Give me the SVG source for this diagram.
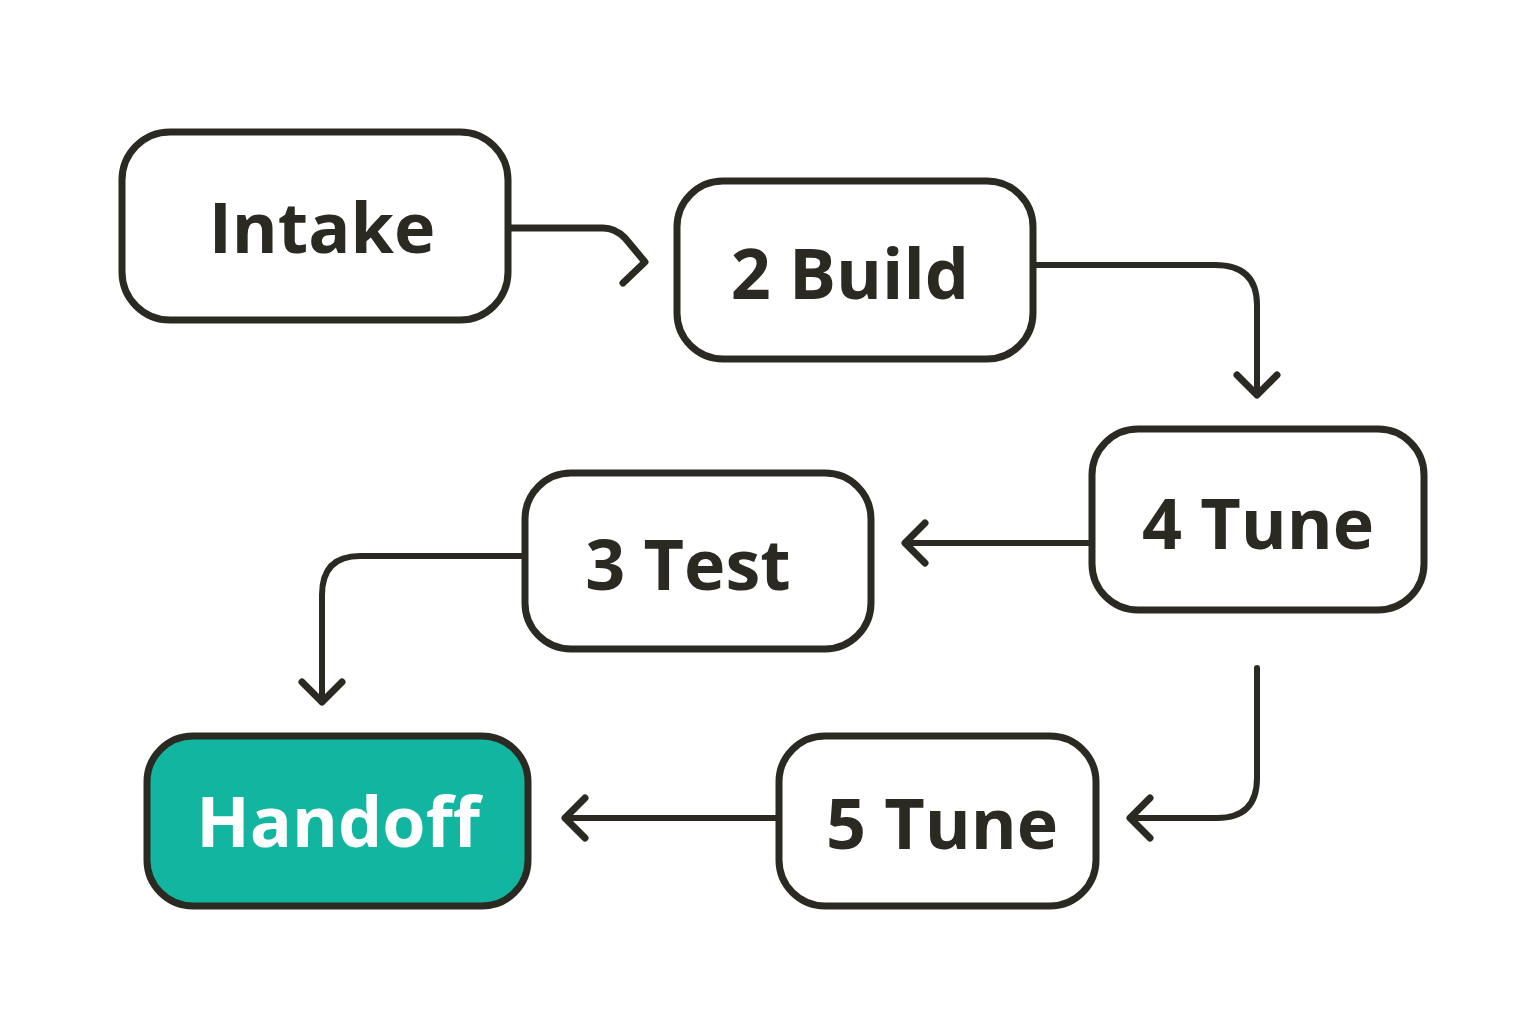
<svg xmlns="http://www.w3.org/2000/svg" width="1536" height="1024" viewBox="0 0 1536 1024">
<style>
.n{fill:#fff;stroke:#2a2a22;stroke-width:7}
.t{font-family:"Open Sans","Noto Sans",sans-serif;font-weight:700;font-size:70px;fill:#2a2a22;text-anchor:middle;dominant-baseline:central}
.c{fill:none;stroke:#2a2a22;stroke-width:6;stroke-linecap:round;stroke-linejoin:round}
</style>
<defs>
<marker id="a" markerUnits="userSpaceOnUse" markerWidth="50" markerHeight="50" refX="25" refY="25" orient="auto" overflow="visible">
<path d="M5,5 L25,25 L5,45" fill="none" stroke="#2a2a22" stroke-width="7" stroke-linecap="round" stroke-linejoin="round"/>
</marker>
</defs>
<rect width="1536" height="1024" fill="#fff"/>
<g id="connectors">
<path class="c" d="M508,228 H603 Q615,228 625,238 L645,262 L623,283" style="stroke-width:7"/>
<path class="c" d="M1033,265 H1215 Q1257,265 1257,305 V395" marker-end="url(#a)"/>
<path class="c" d="M1092,543 H905" marker-end="url(#a)"/>
<path class="c" d="M525,556 H360 Q322,556 322,595 V702" marker-end="url(#a)"/>
<path class="c" d="M1257,668 V778 Q1257,818 1217,818 H1130" marker-end="url(#a)"/>
<path class="c" d="M779,818 H565" marker-end="url(#a)"/>
</g>
<g id="intake"><rect class="n" x="122" y="132" width="386" height="188" rx="48"/><text class="t" x="322" y="226">Intake</text></g>
<g id="build"><rect class="n" x="677" y="181" width="356" height="178" rx="46"/><text class="t" x="850" y="272">2 Build</text></g>
<g id="tune4"><rect class="n" x="1092" y="429" width="332" height="181" rx="46"/><text class="t" x="1258" y="522">4 Tune</text></g>
<g id="test"><rect class="n" x="525" y="473" width="346" height="176" rx="46"/><text class="t" x="688" y="563">3 Test</text></g>
<g id="handoff"><rect class="n" x="147" y="736" width="381" height="170" rx="46" style="fill:#12b5a0"/><text class="t" x="338" y="820" style="fill:#fff">Handoff</text></g>
<g id="tune5"><rect class="n" x="779" y="736" width="317" height="170" rx="46"/><text class="t" x="942" y="822">5 Tune</text></g>
</svg>
